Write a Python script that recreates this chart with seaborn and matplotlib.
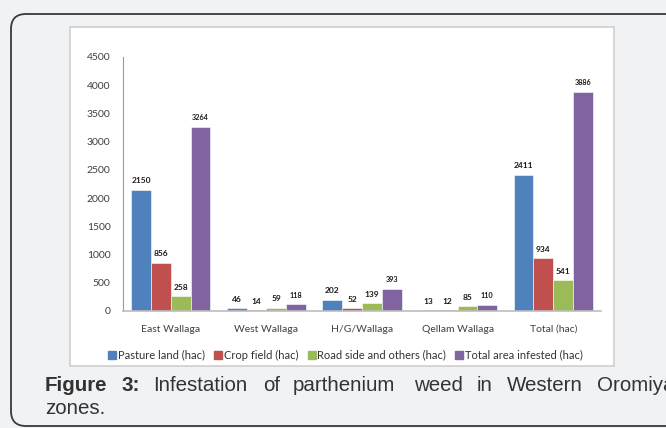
import matplotlib
matplotlib.use("Agg")
import matplotlib.pyplot as plt
import matplotlib.transforms as mtransforms
from matplotlib.patches import FancyBboxPatch, Rectangle
from matplotlib.lines import Line2D
import seaborn as sns
import pandas as pd

# data
zones = ["East Wallaga", "West Wallaga", "H/G/Wallaga", "Qellam Wallaga", "Total (hac)"]
series = ["Pasture land (hac)", "Crop field (hac)", "Road side and others (hac)", "Total area infested (hac)"]
pasture = [2150, 46, 202, 13, 2411]
crop = [856, 14, 52, 12, 934]
road = [258, 59, 139, 85, 541]
total = [3264, 118, 393, 110, 3886]
colors = ["#4F81BD", "#C0504D", "#9BBB59", "#8064A2"]

rows = []
for name, vals in zip(series, [pasture, crop, road, total]):
    for z, v in zip(zones, vals):
        rows.append({"zone": z, "type": name, "value": v})
df = pd.DataFrame(rows)

sns.set_style("white")
plt.rcParams["font.family"] = ["Lato", "DejaVu Sans"]

W, H = 666, 428
fig = plt.figure(figsize=(W / 100, H / 100), dpi=100, facecolor="#f1f2f4")
px = mtransforms.IdentityTransform()

# outer rounded frame and white chart panel (pixel coords, origin bottom-left)
frame = FancyBboxPatch((11, 2), 720, 412, boxstyle="round,pad=0,rounding_size=15",
                       transform=px, facecolor="none", edgecolor="#3a3a3a", linewidth=1.3,
                       zorder=-5)
fig.patches.append(frame)
panel = Rectangle((70, H - 366), 544, 339, transform=px, facecolor="white",
                  edgecolor="#cfcfcf", linewidth=1.2, zorder=-4)
fig.patches.append(panel)

ax = fig.add_axes([123 / W, (H - 311) / H, 478 / W, 254 / H])
ax.set_facecolor("none")
sns.barplot(data=df, x="zone", y="value", hue="type", palette=colors, width=0.83,
            saturation=1, edgecolor="white", linewidth=0.4, ax=ax, legend=False)

ax.set_ylim(0, 4500)
ax.set_yticks(range(0, 4501, 500))
ax.set_xlim(-0.5, 4.5)
ax.set_xlabel("")
ax.set_ylabel("")
ax.tick_params(axis="y", length=0, pad=9, labelsize=7.5, labelcolor="#404040")
ax.tick_params(axis="x", length=0, pad=10, labelsize=7.5, labelcolor="#404040")
for s in ["top", "right"]:
    ax.spines[s].set_visible(False)
ax.spines["left"].set_color("#9a9a9a")
ax.spines["left"].set_linewidth(0.8)
ax.spines["bottom"].set_color("#bdbdbd")
ax.spines["bottom"].set_linewidth(1.2)

for i, cont in enumerate(ax.containers):
    fs = 5.2 if i == 3 else 6
    ax.bar_label(cont, padding=4, fontsize=fs, fontweight="bold", color="#1a1a1a")

handles = [Line2D([], [], marker="s", linestyle="none", markersize=5.5,
                  markerfacecolor=c, markeredgecolor=c) for c in colors]
fig.legend(handles, series, loc="center", bbox_to_anchor=(346 / W, (H - 355) / H),
           ncol=4, frameon=False, fontsize=8, handlelength=0.6, handletextpad=0.2,
           columnspacing=0.9, labelcolor="#333333")

# caption, justified across the line
cap = "#333333"
cfont = ["Liberation Sans", "DejaVu Sans"]
csize = 14.8
y1 = (H - 391) / H
fig.text(45 / W, y1, "Figure", fontsize=csize, fontweight="bold", color=cap, family=cfont)
fig.text(121 / W, y1, "3:", fontsize=csize, fontweight="bold", color=cap, family=cfont)
words = ["Infestation", "of", "parthenium", "weed", "in", "Western", "Oromiya"]
starts = [153, 263, 293, 414, 477, 507, 597]
for w, x in zip(words, starts):
    fig.text(x / W, y1, w, fontsize=csize, color=cap, family=cfont)
fig.text(45 / W, (H - 414) / H, "zones.", fontsize=csize, color=cap, family=cfont)

fig.savefig("out.png", dpi=100, facecolor=fig.get_facecolor())
